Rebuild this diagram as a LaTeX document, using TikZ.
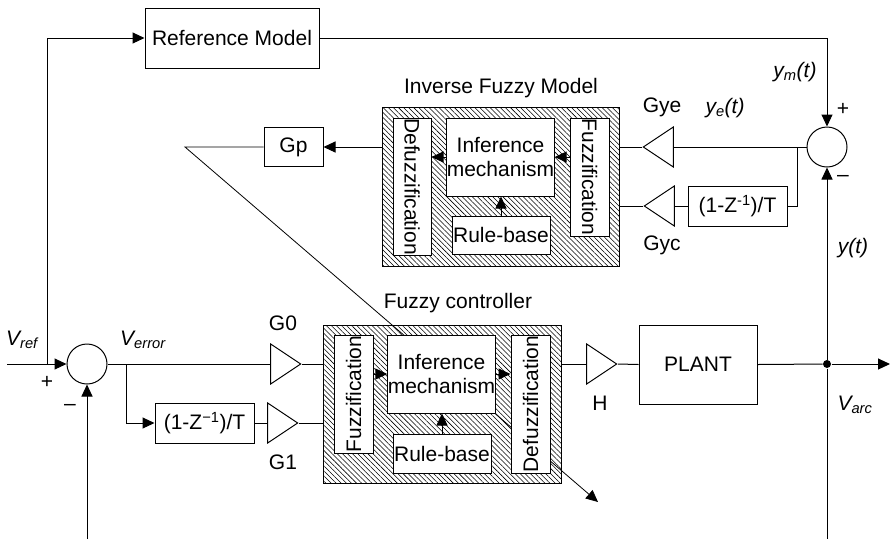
\documentclass[tikz,border=0pt]{standalone}
\usepackage{fontspec}
\setmainfont{Liberation Sans}
\usepackage{graphicx}
\usetikzlibrary{shapes.geometric,arrows.meta,patterns.meta,calc}
\begin{document}
\begin{tikzpicture}[x=1pt,y=-1pt, line width=1pt,
  every node/.style={font=\fontsize{21}{24}\selectfont},
  blk/.style={draw, fill=white, inner sep=0pt, align=center},
  hatch/.style={draw, pattern={Lines[angle=-45,distance=3.6pt,line width=0.55pt]}, inner sep=0pt},
  amp/.style={draw, fill=white, isosceles triangle, isosceles triangle stretches, inner sep=0pt, minimum width=40pt, minimum height=30pt},
  sumc/.style={draw, circle, minimum size=40pt, inner sep=0pt},
  arr/.style={-{Triangle[length=12pt,width=11pt]}},
]
\useasboundingbox (0,0) rectangle (890,539);

% upper part
\node[blk, minimum width=174pt, minimum height=60pt] (refm) at (232,38) {Reference Model};
\node[blk, minimum width=59pt, minimum height=39pt] (gp) at (293.5,147) {Gp};
\node[hatch, minimum width=237pt, minimum height=159pt] (ifz) at (500.5,186.5) {};
\node (ifzt) at (501,88) {Inverse Fuzzy Model};
\node[blk, minimum width=38pt, minimum height=137pt] (ifzdef) at (412,186.5) {\rotatebox{-90}{Defuzzification}};
\node[blk, minimum width=105pt, minimum height=78pt] (ifzinf) at (500.5,157) {Inference\\mechanism};
\node[blk, minimum width=98pt, minimum height=38pt] (ifzrule) at (501,235) {Rule-base};
\node[blk, minimum width=39pt, minimum height=118pt] (ifzfuz) at (589.5,177) {\rotatebox{-90}{Fuzzification}};
\node[amp, shape border rotate=180, anchor=apex] (gye) at (642,147) {};
\node[amp, shape border rotate=180, anchor=apex] (gyc) at (643,206) {};
\node[blk, minimum width=99pt, minimum height=40pt] (d2) at (737.5,206) {(1-Z\textsuperscript{-1})/T};
\node[sumc] (s2) at (827,147) {};

% lower part
\node[sumc] (s1) at (87,364) {};
\node[amp, anchor=apex] (g0) at (302,364) {};
\node[blk, minimum width=99pt, minimum height=40pt] (d1) at (204.5,423) {(1-Z\textsuperscript{−1})/T};
\node[amp, anchor=apex] (g1) at (299,423) {};
\node[hatch, minimum width=238pt, minimum height=158pt] (fc) at (442,404) {};
\node (fct) at (458,303) {Fuzzy controller};

\coordinate (bend) at (185,147);
\coordinate (adapt) at (598,502);
\draw[arr, line width=0.8pt] (gp.west) -- (bend) -- (adapt);

\node[blk, minimum width=39pt, minimum height=118pt] (fcfuz) at (353.5,394) {\rotatebox{90}{Fuzzification}};
\node[blk, minimum width=103pt, minimum height=78pt] (fcinf) at (441.5,374) {Inference\\mechanism};
\node[blk, minimum width=98pt, minimum height=39pt] (fcrule) at (442,453.5) {Rule-base};
\node[blk, minimum width=39pt, minimum height=138pt] (fcdef) at (530.5,404) {\rotatebox{90}{Defuzzification}};
\node[amp, anchor=apex] (h) at (618,364) {};
\node[blk, minimum width=118pt, minimum height=79pt] (plant) at (698,364.5) {PLANT};
\node[circle, fill, inner sep=0pt, minimum size=8pt] (dot) at (827,364) {};

\coordinate (vin) at (7,364);
\coordinate (out) at (890,364);
\coordinate (bl) at (87,539);
\coordinate (br) at (827,539);
\coordinate (j1) at (47,364);
\coordinate (j2) at (797,147);
\coordinate (j3) at (126,364);

% connectors
\draw[arr] (vin) -- (s1.west);
\draw[arr] (j1) |- (refm.west);
\draw[arr] (refm.east) -| (s2.north);
\draw (s2.west) -- (gye.lower side);
\draw (j2) |- (d2.east);
\draw (d2.west) -- (gyc.lower side);
\draw (gye.apex) -- (gye.apex -| ifz.east);
\draw (gyc.apex) -- (gyc.apex -| ifz.east);
\draw[arr] (ifzfuz.west |- ifzinf.east) -- (ifzinf.east);
\draw[arr] (ifzinf.west) -- (ifzinf.west -| ifzdef.east);
\draw[arr] (ifzrule.north) -- (ifzrule.north |- ifzinf.south);
\draw[arr] (ifz.west |- gp.east) -- (gp.east);

\draw (s1.east) -- (g0.lower side);
\draw (g0.apex) -- (g0.apex -| fc.west);
\draw[arr] (j3) |- (d1.west);
\draw (d1.east) -- (g1.lower side);
\draw (g1.apex) -- (g1.apex -| fc.west);
\draw[arr] (fcfuz.east |- fcinf.west) -- (fcinf.west);
\draw[arr] (fcinf.east) -- (fcinf.east -| fcdef.west);
\draw[arr] (fcrule.north) -- (fcrule.north |- fcinf.south);
\draw (h.lower side -| fc.east) -- (h.lower side);
\draw (h.apex) -- (plant.west);
\draw (plant.east) -- (dot);
\draw[arr] (dot) -- (out);
\draw[arr] (dot) -- (s2.south);
\draw (dot) -- (br);
\draw[arr] (bl) -- (s1.south);

% labels
\node (lym) at (795,72) {\textit{y\textsubscript{m}(t)}};
\node (lp2) at (843,109) {+};
\node (lm2) at (843,178) {–};
\node (lgye) at (662,107) {Gye};
\node (lye) at (725,108) {\textit{y\textsubscript{e}(t)}};
\node (lgyc) at (662,245) {Gyc};
\node (ly) at (853,248) {\textit{y(t)}};
\node (lvref) at (22,340) {\textit{V\textsubscript{ref}}};
\node (lp1) at (47,382) {+};
\node (lm1) at (70,407) {–};
\node (lverr) at (143,340) {\textit{V\textsubscript{error}}};
\node (lg0) at (283,323) {G0};
\node (lg1) at (283,462) {G1};
\node (lh) at (600,403) {H};
\node (lvarc) at (855,405) {\textit{V\textsubscript{arc}}};
\end{tikzpicture}
\end{document}
